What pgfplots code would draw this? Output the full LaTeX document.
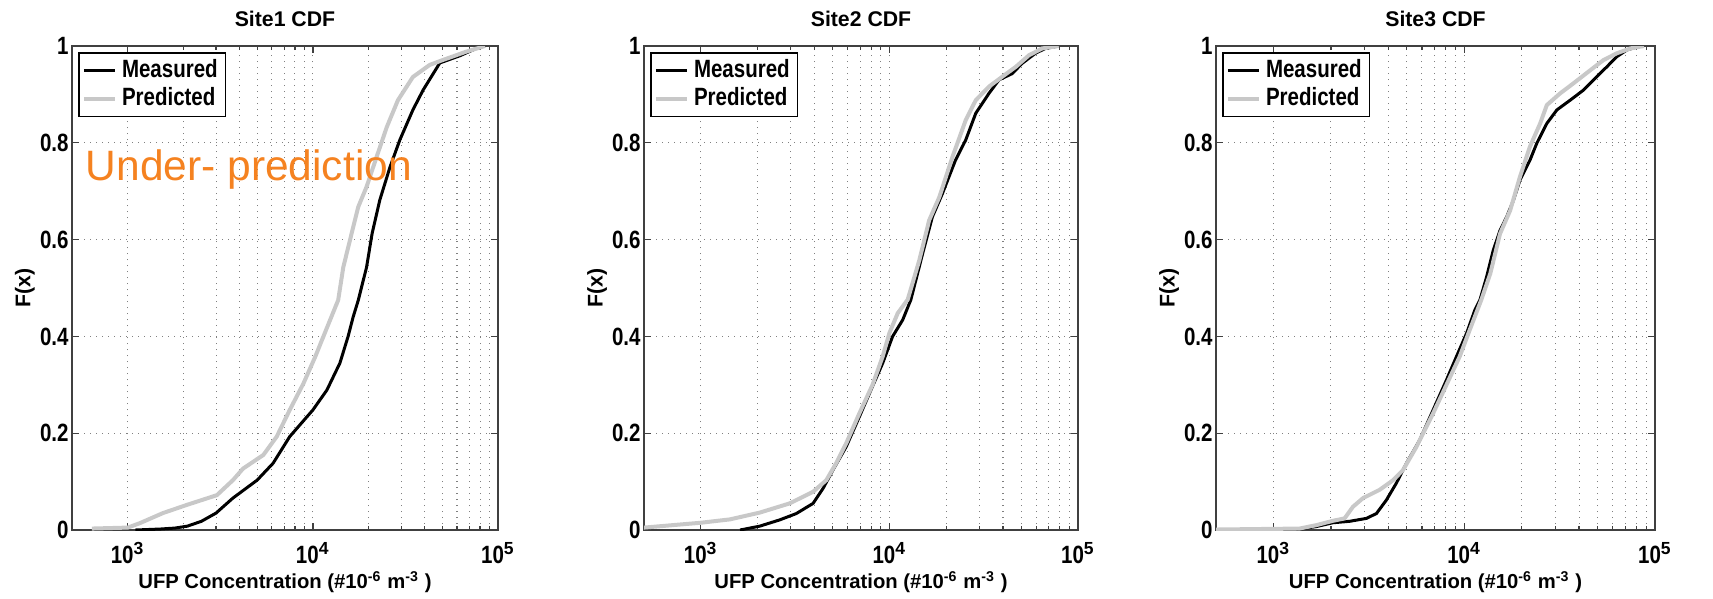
\documentclass[border=0pt]{standalone}
\usepackage{graphicx}
\usepackage{pgfplots}
\pgfplotsset{compat=1.18}
\usepackage{fontspec}
\setmainfont{Liberation Sans}
\definecolor{pred}{RGB}{200,200,200}
\definecolor{ora}{RGB}{245,130,32}
\definecolor{axc}{RGB}{64,64,64}
\newcommand{\nt}[1]{\scalebox{0.82}[1]{#1}}
\pgfplotsset{
 every axis title/.style={at={(axis description cs:0.5,1)}, anchor=center, yshift=10.8pt, font=\bfseries\fontsize{8.5}{10}\selectfont},
 every axis x label/.style={at={(axis description cs:0.5,0)}, anchor=center, yshift=-21pt, font=\bfseries\fontsize{8.1}{10}\selectfont},
 every axis y label/.style={at={(axis description cs:0,0.5)}, xshift=-18.8pt, rotate=90, anchor=center, font=\bfseries\fontsize{8.5}{10}\selectfont},
 every axis/.append style={
  xmode=log, scale only axis, height=193.6pt,
  xmin=500, xmax=100000, ymin=0, ymax=1,
  xtick={1000,10000,100000},
  xticklabels={\nt{10}\textsuperscript{3},\nt{10}\textsuperscript{4},\nt{10}\textsuperscript{5}},
  ytick={0,0.2,0.4,0.6,0.8,1},
  yticklabels={\nt{0},\nt{0.2},\nt{0.4},\nt{0.6},\nt{0.8},\nt{1}},
  ticklabel style={font=\bfseries\fontsize{10}{12}\selectfont},
  yticklabel style={inner xsep=1.2pt},
  xticklabel style={yshift=-1.5pt},
  grid=both,
  major grid style={dotted, black!50, line width=0.45pt},
  minor grid style={dotted, black!50, line width=0.45pt},
  tick align=inside,
  major tick length=2.8pt, minor tick length=1.6pt,
  axis line style={axc, line width=0.6pt},
  tick style={axc, line width=0.5pt},
  xlabel={UFP Concentration (\#10\textsuperscript{-6} m\textsuperscript{-3} )},
  ylabel={F(x)},
  legend style={at={(0,1)}, anchor=north west, xshift=2.4pt, yshift=-2.4pt,
     draw=black, line width=0.6pt, font=\bfseries\fontsize{10}{12}\selectfont,
     inner xsep=1.2pt, inner ysep=0.8pt, row sep=-1.5pt},
  legend cell align=left,
  legend image code/.code={\draw[##1] (0pt,0pt) -- (12.5pt,0pt);},
 },
}
\begin{document}
\begin{tikzpicture}
\path[use as bounding box] (0,0) rectangle (685.2pt,239.2pt);
% ---------- Site 1
\begin{axis}[width=170.4pt, at={(28.8pt,27.2pt)}, anchor=south west, title={Site1 CDF}]
\addplot[black, line width=1.2pt] coordinates {(1100,0) (1500,0.002) (1800,0.004) (2100,0.008) (2500,0.018) (3000,0.035) (3700,0.066) (5000,0.103) (6100,0.138) (7500,0.193) (10000,0.248) (11900,0.289) (14000,0.345) (15500,0.40) (16500,0.44) (17600,0.475) (19500,0.543) (20900,0.613) (23000,0.682) (26100,0.75) (29500,0.806) (34700,0.868) (39400,0.909) (48500,0.965) (62400,0.98) (79400,0.998) (85000,1)};
\addlegendentry{\nt{Measured}}
\addplot[pred, line width=1.6pt] coordinates {(640,0.003) (1000,0.005) (1160,0.014) (1550,0.035) (2090,0.052) (3030,0.072) (3700,0.103) (4200,0.127) (5400,0.155) (6380,0.193) (7500,0.248) (8900,0.303) (10300,0.358) (11600,0.407) (13700,0.475) (14600,0.543) (16200,0.613) (17600,0.668) (19500,0.709) (22100,0.771) (25100,0.833) (28800,0.888) (34700,0.936) (42800,0.961) (50300,0.971) (67000,0.988) (85000,1)};
\addlegendentry{\nt{Predicted}}
\node[anchor=base west, text=ora, font=\fontsize{17}{20}\selectfont, inner sep=0pt] at (axis cs:590,0.723) {Under- prediction};
\end{axis}
% ---------- Site 2
\begin{axis}[width=173.6pt, at={(257.6pt,27.2pt)}, anchor=south west, title={Site2 CDF}]
\addplot[black, line width=1.2pt] coordinates {(1615,0) (2055,0.008) (2625,0.021) (3210,0.034) (3940,0.055) (4450,0.086) (5020,0.124) (5900,0.172) (6930,0.234) (8140,0.297) (9220,0.345) (10400,0.40) (11760,0.434) (13000,0.476) (15000,0.571) (16900,0.647) (19100,0.695) (22400,0.764) (25400,0.806) (28700,0.861) (33700,0.902) (38100,0.93) (44800,0.943) (50500,0.964) (59500,0.985) (67200,0.995) (79000,1)};
\addlegendentry{\nt{Measured}}
\addplot[pred, line width=1.6pt] coordinates {(500,0.005) (1000,0.015) (1430,0.022) (2055,0.036) (2960,0.055) (3940,0.079) (4630,0.103) (5220,0.138) (5900,0.179) (6930,0.241) (8140,0.30) (9220,0.359) (10000,0.407) (11070,0.448) (12500,0.476) (14400,0.557) (16250,0.64) (18400,0.688) (21600,0.771) (25400,0.847) (28700,0.888) (33700,0.916) (39800,0.937) (46800,0.957) (55000,0.981) (64600,0.995) (79000,1)};
\addlegendentry{\nt{Predicted}}
\end{axis}
% ---------- Site 3
\begin{axis}[width=175.6pt, at={(486.4pt,27.2pt)}, anchor=south west, title={Site3 CDF}]
\addplot[black, line width=1.2pt] coordinates {(1316,0.001) (1675,0.007) (2050,0.015) (2510,0.018) (3070,0.024) (3465,0.034) (3910,0.062) (4410,0.097) (4980,0.138) (5850,0.186) (6870,0.248) (8070,0.31) (9120,0.359) (10300,0.407) (11380,0.455) (12100,0.476) (13100,0.523) (14200,0.578) (15400,0.619) (16700,0.647) (18100,0.681) (19600,0.723) (22100,0.764) (24000,0.799) (27100,0.84) (30600,0.868) (35900,0.888) (42200,0.909) (47600,0.93) (55900,0.957) (63100,0.978) (71300,0.992) (83800,1)};
\addlegendentry{\nt{Measured}}
\addplot[pred, line width=1.6pt] coordinates {(500,0.001) (1370,0.003) (1675,0.01) (2050,0.019) (2360,0.024) (2610,0.048) (2950,0.066) (3600,0.083) (4240,0.103) (4780,0.124) (5620,0.172) (6870,0.241) (8070,0.30) (9480,0.359) (10700,0.414) (12300,0.476) (13700,0.53) (15400,0.612) (17400,0.66) (19600,0.73) (22100,0.792) (25000,0.84) (27100,0.878) (31800,0.902) (37400,0.923) (45800,0.95) (53700,0.971) (63100,0.985) (74300,0.995) (87500,1)};
\addlegendentry{\nt{Predicted}}
\end{axis}
\end{tikzpicture}
\end{document}
